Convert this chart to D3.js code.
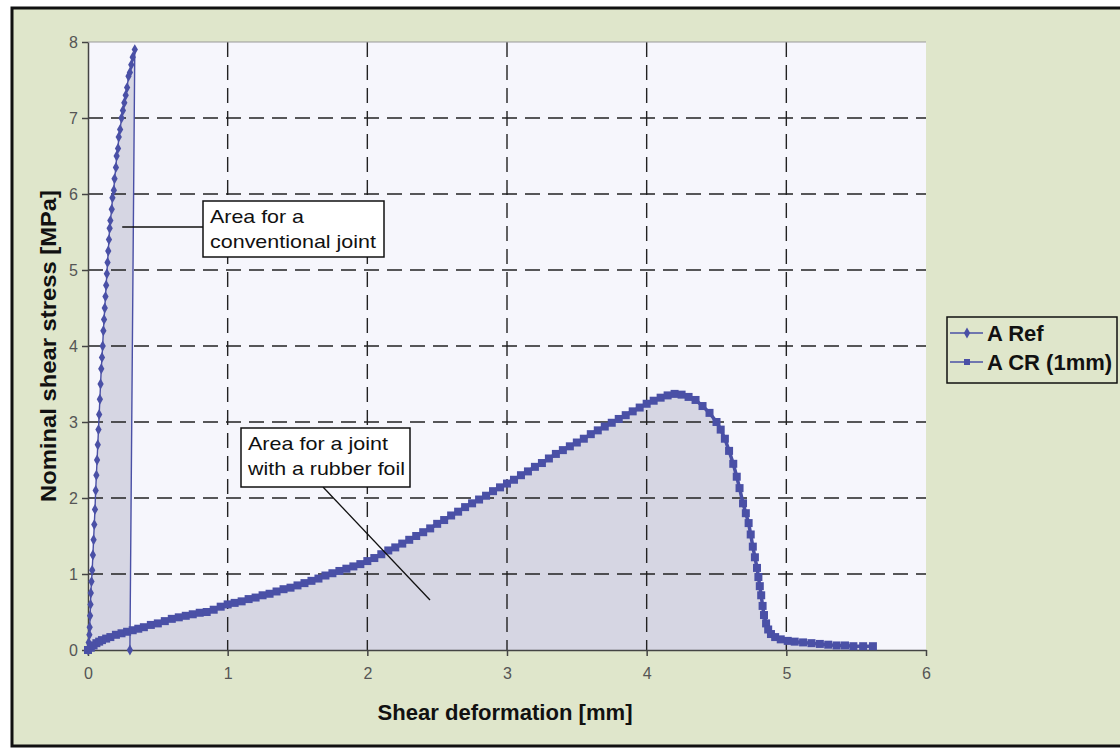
<!DOCTYPE html>
<html><head><meta charset="utf-8">
<script src="https://cdn.jsdelivr.net/npm/d3@7"></script>
<style>body{margin:0;background:#fff}svg{display:block}</style>
</head><body>
<script>
// ---- data ----
const xTicks = [0,1,2,3,4,5,6];
const yTicks = [0,1,2,3,4,5,6,7,8];
const seriesNames = ["A Ref", "A CR (1mm)"];
const refX = [0,0.005,0.01,0.012,0.015,0.018,0.02,0.025,0.03,0.035,0.04,0.045,0.05,0.055,0.06,0.065,0.07,0.075,0.08,0.085,0.09,0.095,0.1,0.105,0.11,0.115,0.12,0.125,0.13,0.135,0.14,0.145,0.15,0.155,0.16,0.17,0.175,0.185,0.19,0.2,0.205,0.215,0.22,0.23,0.24,0.25,0.26,0.27,0.28,0.29,0.3,0.31,0.32,0.335,0.3];
const refY = [0,0.1,0.2,0.3,0.45,0.6,0.75,0.9,1.05,1.25,1.45,1.65,1.85,2.1,2.3,2.5,2.7,2.9,3.1,3.3,3.5,3.7,3.85,4.0,4.2,4.35,4.5,4.65,4.8,4.95,5.1,5.25,5.4,5.55,5.65,5.8,5.95,6.05,6.2,6.35,6.5,6.6,6.75,6.85,7.0,7.1,7.2,7.3,7.4,7.55,7.6,7.7,7.8,7.9,0];
const crX = [0,0.02,0.04,0.06,0.08,0.10,0.13,0.16,0.20,0.24,0.28,0.32,0.36,0.40,0.45,0.50,0.55,0.60,0.65,0.70,0.75,0.80,0.85,0.90,0.95,1.00,1.05,1.10,1.15,1.20,1.25,1.30,1.35,1.40,1.45,1.50,1.55,1.60,1.65,1.70,1.75,1.80,1.85,1.90,1.95,2.00,2.05,2.10,2.15,2.20,2.25,2.30,2.35,2.40,2.45,2.50,2.55,2.60,2.65,2.70,2.75,2.80,2.85,2.90,2.95,3.00,3.05,3.10,3.15,3.20,3.25,3.30,3.35,3.40,3.45,3.50,3.55,3.60,3.65,3.70,3.75,3.80,3.85,3.90,3.95,4.00,4.05,4.10,4.15,4.20,4.25,4.30,4.35,4.40,4.45,4.50,4.53,4.56,4.59,4.62,4.645,4.665,4.69,4.71,4.73,4.745,4.76,4.775,4.79,4.80,4.81,4.82,4.83,4.84,4.855,4.87,4.89,4.92,4.96,5.01,5.06,5.12,5.18,5.24,5.30,5.36,5.42,5.48,5.55,5.62];
const crY = [0,0.03,0.06,0.09,0.11,0.13,0.15,0.17,0.20,0.22,0.24,0.26,0.28,0.30,0.33,0.35,0.38,0.41,0.43,0.45,0.47,0.49,0.50,0.53,0.57,0.60,0.62,0.64,0.67,0.69,0.72,0.74,0.77,0.80,0.82,0.85,0.88,0.91,0.94,0.98,1.01,1.04,1.07,1.10,1.13,1.17,1.21,1.26,1.31,1.35,1.40,1.45,1.50,1.55,1.60,1.66,1.71,1.77,1.82,1.88,1.93,1.98,2.03,2.09,2.14,2.19,2.24,2.30,2.35,2.41,2.46,2.52,2.58,2.63,2.68,2.73,2.78,2.84,2.89,2.94,2.99,3.04,3.09,3.14,3.19,3.24,3.28,3.32,3.35,3.37,3.36,3.33,3.29,3.21,3.12,3.00,2.90,2.78,2.62,2.45,2.28,2.13,1.93,1.80,1.67,1.52,1.36,1.22,1.08,0.96,0.84,0.72,0.58,0.46,0.35,0.27,0.21,0.17,0.14,0.12,0.11,0.10,0.09,0.08,0.07,0.06,0.06,0.05,0.05,0.05];
const xTitle = "Shear deformation [mm]";
const yTitle = "Nominal shear stress [MPa]";
const note1 = ["Area for a", "conventional joint"];
const note2 = ["Area for a joint", "with a rubber foil"];

// ---- drawing ----
const W = 1120, H = 749;
const FONT = "Liberation Sans, Arial, sans-serif";
const col = "#4a50a6", fillCol = "#d6d6e3", bg = "#dfe6cb";
const svg = d3.select("body").append("svg").attr("width", W).attr("height", H)
  .style("font-family", FONT);
svg.append("rect").attr("x",12).attr("y",8).attr("width",1120).attr("height",738)
  .attr("fill",bg).attr("stroke","#111").attr("stroke-width",3);

const x = d3.scaleLinear().domain([0,6]).range([88,926]);
const y = d3.scaleLinear().domain([0,8]).range([650,42]);

svg.append("rect").attr("x",x(0)).attr("y",y(8)).attr("width",x(6)-x(0)).attr("height",y(0)-y(8))
  .attr("fill","#f6f6fc");

const ref = refX.map((v,i)=>[v,refY[i]]);
const cr = crX.map((v,i)=>[v,crY[i]]);

// shaded areas
svg.append("path").attr("fill",fillCol)
  .attr("d", d3.line().x(d=>x(d[0])).y(d=>y(d[1]))(ref.concat([[0,0]])));
svg.append("path").datum(cr).attr("fill",fillCol)
  .attr("d", d3.area().x(d=>x(d[0])).y0(y(0)).y1(d=>y(d[1])));

// grid
const g = svg.append("g").attr("stroke","#222").attr("stroke-width",1.4).attr("stroke-dasharray","15,8");
yTicks.filter(t=>t>0&&t<8).forEach(t=>g.append("line").attr("x1",x(0)).attr("x2",x(6)).attr("y1",y(t)).attr("y2",y(t)));
xTicks.filter(t=>t>0&&t<6).forEach(t=>g.append("line").attr("y1",y(8)).attr("y2",y(0)).attr("x1",x(t)).attr("x2",x(t)));
svg.append("line").attr("x1",x(0)).attr("x2",x(6)).attr("y1",y(8)).attr("y2",y(8)).attr("stroke","#999").attr("stroke-width",1);

// axes
const xa = svg.append("g").attr("transform",`translate(0,${y(0)})`)
  .call(d3.axisBottom(x).tickValues(xTicks).tickFormat(d3.format("d")).tickSize(6).tickPadding(12).tickSizeOuter(0));
const ya = svg.append("g").attr("transform",`translate(${x(0)},0)`)
  .call(d3.axisLeft(y).tickValues(yTicks).tickFormat(d3.format("d")).tickSize(6).tickPadding(4).tickSizeOuter(0));
[xa,ya].forEach(a=>{
  a.select(".domain").attr("stroke","#444").attr("stroke-width",1.5);
  a.selectAll(".tick line").attr("stroke","#444").attr("stroke-width",1.5);
  a.selectAll("text").attr("fill","#555").style("font-size","16px").style("font-family",FONT);
});

// series
const line = d3.line().x(d=>x(d[0])).y(d=>y(d[1]));
svg.append("path").datum(ref).attr("d",line).attr("fill","none").attr("stroke",col).attr("stroke-width",1.4);
svg.append("path").datum(cr).attr("d",line).attr("fill","none").attr("stroke",col).attr("stroke-width",3.5);
const diamond = d3.symbol().type(d3.symbolDiamond).size(34);
svg.append("g").selectAll("path").data(ref).join("path").attr("d",diamond)
  .attr("transform",d=>`translate(${x(d[0])},${y(d[1])})`).attr("fill",col);
svg.append("g").selectAll("rect").data(cr).join("rect")
  .attr("x",d=>x(d[0])-4).attr("y",d=>y(d[1])-4).attr("width",8).attr("height",8).attr("fill",col);

// annotations
function note(bx,by,bw,bh,lines,lens,lx1,ly1,lx2,ly2){
  svg.append("line").attr("x1",lx1).attr("y1",ly1).attr("x2",lx2).attr("y2",ly2).attr("stroke","#111").attr("stroke-width",1.3);
  svg.append("rect").attr("x",bx).attr("y",by).attr("width",bw).attr("height",bh).attr("fill","#fff").attr("stroke","#111").attr("stroke-width",1.5);
  lines.forEach((t,i)=>svg.append("text").attr("x",bx+7).attr("y",by+22+i*25).text(t)
    .attr("textLength",lens[i]).attr("lengthAdjust","spacingAndGlyphs")
    .attr("fill","#111").style("font-size","19px"));
}
note(203,201,181,56,note1,[94,166],x(0.245),227,203,227);
note(241,428,169,59,note2,[140,157],323,487,430,600);

// axis titles
svg.append("text").attr("x",505).attr("y",720).attr("text-anchor","middle").text(xTitle)
  .attr("textLength",255).attr("lengthAdjust","spacingAndGlyphs")
  .style("font-size","22px").style("font-weight","bold").attr("fill","#111");
svg.append("text").attr("transform","translate(56,346) rotate(-90)").attr("text-anchor","middle").text(yTitle)
  .attr("textLength",312).attr("lengthAdjust","spacingAndGlyphs")
  .style("font-size","22px").style("font-weight","bold").attr("fill","#111");

// legend
const lg = svg.append("g");
lg.append("rect").attr("x",947).attr("y",317).attr("width",170).attr("height",66).attr("fill",bg).attr("stroke","#111").attr("stroke-width",1.5);
seriesNames.forEach((n,i)=>{
  const ly = 333 + i*29;
  lg.append("line").attr("x1",950).attr("x2",983).attr("y1",ly).attr("y2",ly).attr("stroke",col).attr("stroke-width",1.5);
  if(i===0) lg.append("path").attr("d",diamond).attr("transform",`translate(967,${ly})`).attr("fill",col);
  else lg.append("rect").attr("x",964).attr("y",ly-3).attr("width",6).attr("height",6).attr("fill",col);
  lg.append("text").attr("x",987).attr("y",ly+8).text(n).style("font-size","22px").style("font-weight","bold").attr("fill","#111");
});
</script>
</body></html>
